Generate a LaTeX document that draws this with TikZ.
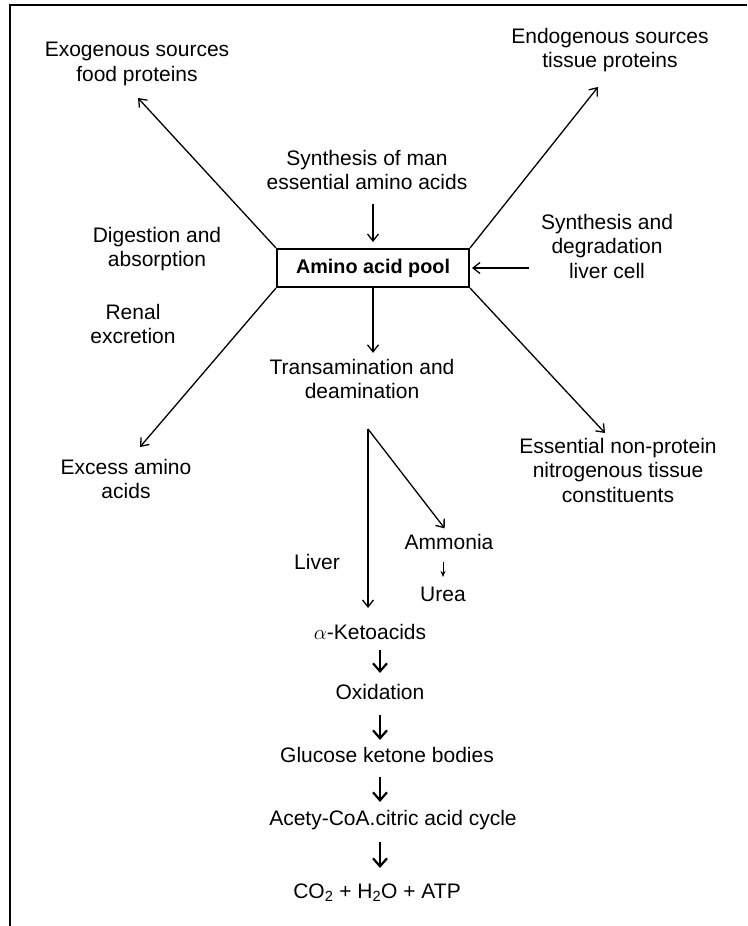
\documentclass[tikz,border=0pt]{standalone}
\usepackage{fontspec}
\setmainfont{Liberation Sans}
\usetikzlibrary{arrows.meta,calc}
\begin{document}
\begin{tikzpicture}[x=1pt,y=-1pt,
  lbl/.style={font=\fontsize{21}{24.5}\selectfont, align=center, inner sep=0pt},
  one/.style={lbl, text height=15.3pt, text depth=4.4pt},
  arr/.style={line width=1.3pt, -{Straight Barb[length=7pt,width=11pt]}},
  chain/.style={line width=2.2pt, -{Straight Barb[length=8pt,width=14pt]}},
  small/.style={line width=1pt, -{Stealth[length=6pt,width=5pt]}},
  poolbox/.style={draw, line width=2pt, minimum width=192pt, minimum height=38pt, inner sep=0pt, font=\fontsize{19.8}{23}\selectfont\bfseries}]
\useasboundingbox (0,0) rectangle (747,926);
\draw[line width=2pt] (10,926) -- (10,5) -- (747,5);

\node[poolbox] (pool) at (373,268) {Amino acid pool};
\node[lbl] (exo) at (137,64) {Exogenous sources\\food proteins};
\node[lbl] (endo) at (610,50) {Endogenous sources\\tissue proteins};
\node[lbl] (synman) at (367,170) {Synthesis of man\\essential amino acids};
\node[lbl] (dig) at (157,249) {Digestion and\\absorption};
\node[lbl] (synliv) at (607,246) {Synthesis and\\degradation\\liver cell};
\node[lbl] (renal) at (133,324) {Renal\\excretion};
\node[lbl] (trans) at (362,379) {Transamination and\\deamination};
\node[lbl] (excess) at (126,479) {Excess amino\\acids};
\node[lbl] (ess) at (618,470) {Essential non-protein\\nitrogenous tissue\\constituents};
\node[one] (liver) at (317,564) {Liver};
\node[one] (ammonia) at (449,544) {Ammonia};
\node[one] (urea) at (443,596) {Urea};
\node[one] (keto) at (370,634) {$\alpha$-Ketoacids};
\node[one] (oxid) at (380,694) {Oxidation};
\node[one] (gluc) at (387,757) {Glucose ketone bodies};
\node[one] (acety) at (393,820) {Acety-CoA.citric acid cycle};
\node[one] (co2) at (377,893) {CO\textsubscript{2} + H\textsubscript{2}O + ATP};

\coordinate (exoT) at (138,98);
\coordinate (endoT) at (598,87);
\coordinate (excT) at (140,447);
\coordinate (essT) at (605,433);
\coordinate (split) at (368,429);

\draw[arr] (pool.north west) -- (exoT);
\draw[arr] (pool.north east) -- (endoT);
\draw[arr] (pool.south west) -- (excT);
\draw[arr] (pool.south east) -- (essT);
\draw[arr, shorten <=14pt, shorten >=6pt] (synman.south -| pool.north) -- (pool.north);
\draw[arr, shorten <=12pt, shorten >=2pt] (synliv.west |- pool.east) -- (pool.east);
\draw[arr, shorten >=6pt] (pool.south) -- (pool.south |- trans.north);
\draw[arr, shorten >=16pt] (split) -- (split |- keto.north);
\draw[arr, shorten >=7pt] (split) -- (ammonia.north);
\draw[small, shorten <=8pt, shorten >=9pt] (urea.north |- ammonia.south) -- (urea.north);

\draw[chain, shorten <=6pt, shorten >=11pt] (keto.south -| oxid.north) -- (oxid.north);
\draw[chain, shorten <=11pt, shorten >=7pt] (oxid.south) -- (oxid.south |- gluc.north);
\draw[chain, shorten <=10pt, shorten >=8pt] (oxid.south |- gluc.south) -- (oxid.south |- acety.north);
\draw[chain, shorten <=12pt, shorten >=15pt] (oxid.south |- acety.south) -- (oxid.south |- co2.north);
\end{tikzpicture}
\end{document}
